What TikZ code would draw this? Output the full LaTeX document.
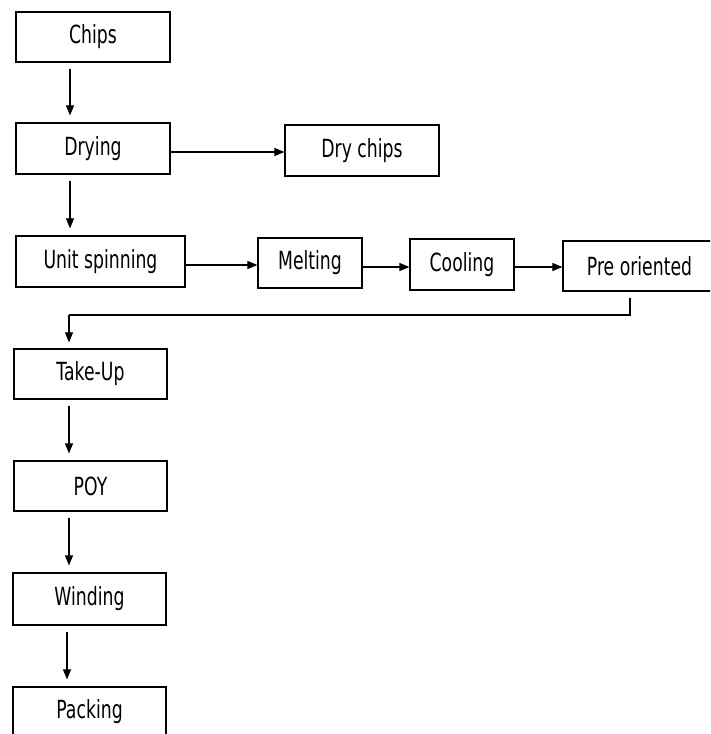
\documentclass[tikz,border=0pt]{standalone}
\usepackage{fontspec}
\setmainfont[FakeStretch=0.69]{DejaVu Sans}
\usetikzlibrary{arrows.meta}
\begin{document}
\begin{tikzpicture}[x=1pt,y=-1pt,
  box/.style={draw=black,line width=1.2pt,inner sep=0pt,anchor=center,
    font=\fontsize{25}{28}\selectfont},
  arr/.style={draw=black,line width=1.1pt,-{Triangle[length=10pt,width=8pt]}},
  ln/.style={draw=black,line width=1.1pt},
  vgap/.style={shorten <=6pt,shorten >=7pt}]
\useasboundingbox (0,0) rectangle (710,734);
\clip (0,0) rectangle (710,734);
\fill[white] (0,0) rectangle (710,734);
\node[box,minimum width=154pt,minimum height=50pt] (chips) at (93,37) {Chips};
\node[box,minimum width=154pt,minimum height=51pt] (drying) at (93,148.5) {Drying};
\node[box,minimum width=154pt,minimum height=51pt] (drychips) at (362,150.5) {Dry chips};
\node[box,minimum width=169pt,minimum height=51pt] (unit) at (100.5,261.5) {Unit spinning};
\node[box,minimum width=104pt,minimum height=50pt] (melting) at (310,263) {Melting};
\node[box,minimum width=104pt,minimum height=51pt] (cooling) at (462,264.5) {Cooling};
\node[box,minimum width=153pt,minimum height=50pt] (pre) at (639.5,266) {Pre oriented};
\node[box,minimum width=153pt,minimum height=50pt] (takeup) at (90.5,374) {Take-Up};
\node[box,minimum width=153pt,minimum height=50pt] (poy) at (90.5,486) {POY};
\node[box,minimum width=153pt,minimum height=52pt] (winding) at (89.5,599) {Winding};
\node[box,minimum width=153pt,minimum height=50pt] (packing) at (89.5,712) {Packing};
% vertical arrows
\draw[arr,vgap] ([xshift=-23pt]chips.south) -- ([xshift=-23pt]chips.south |- drying.north);
\draw[arr,vgap] ([xshift=-23pt]drying.south) -- ([xshift=-23pt]drying.south |- unit.north);
\draw[arr,vgap] ([xshift=-21.5pt]takeup.south) -- ([xshift=-21.5pt]takeup.south |- poy.north);
\draw[arr,vgap] ([xshift=-21.5pt]poy.south) -- ([xshift=-21.5pt]poy.south |- winding.north);
\draw[arr,vgap] ([xshift=-22.5pt]winding.south) -- ([xshift=-22.5pt]winding.south |- packing.north);
% horizontal arrows
\draw[arr] ([yshift=-3.5pt]drying.east) -- ([yshift=-3.5pt]drying.east -| drychips.west);
\draw[arr] ([yshift=-3.5pt]unit.east) -- ([yshift=-3.5pt]unit.east -| melting.west);
\draw[arr] ([yshift=-4pt]melting.east) -- ([yshift=-4pt]melting.east -| cooling.west);
\draw[arr] ([yshift=-2.5pt]cooling.east) -- ([yshift=-2.5pt]cooling.east -| pre.west);
% pre oriented to take-up
\coordinate (pa) at ([xshift=-9.5pt,yshift=-6pt]pre.south);
\coordinate (pb) at (pa |- 0,315);
\coordinate (pc) at ([xshift=-21.5pt]takeup.north |- pb);
\draw[ln] (pa) -- (pb) -- (pc);
\draw[arr,shorten >=6pt] (pc) -- ([xshift=-21.5pt]takeup.north);
\end{tikzpicture}
\end{document}
